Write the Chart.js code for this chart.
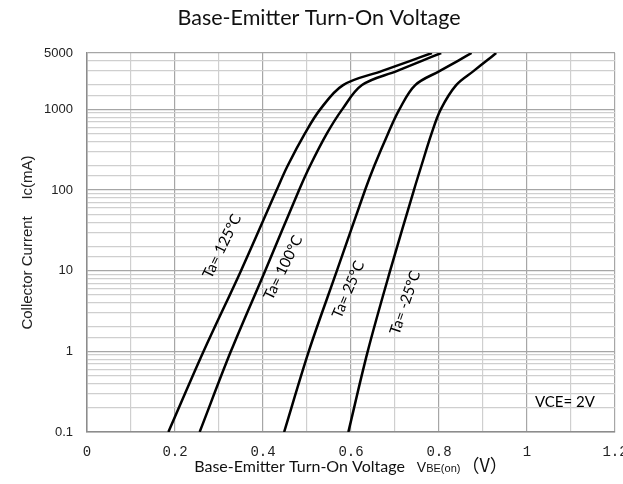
<!DOCTYPE html>
<html><head><meta charset="utf-8">
<script src="https://cdn.jsdelivr.net/npm/chart.js@4/dist/chart.umd.min.js"></script>
<style>html,body{margin:0;padding:0;background:#fff}</style>
</head><body>
<canvas id="c" width="623" height="484"></canvas>
<script>
// ---- data ----
const currents = [0.1, 1, 10, 100, 200, 500, 1000, 2000, 3000, 4000, 5000]; // Ic (mA)
const vbe125  = [0.185, 0.265, 0.350, 0.431, 0.456, 0.495, 0.530, 0.582, 0.671, 0.735, 0.784];
const vbe100  = [0.256, 0.327, 0.405, 0.482, 0.507, 0.545, 0.580, 0.625, 0.705, 0.761, 0.805];
const vbe25   = [0.448, 0.504, 0.568, 0.632, 0.653, 0.684, 0.710, 0.746, 0.802, 0.843, 0.874];
const vbeM25  = [0.594, 0.638, 0.689, 0.743, 0.760, 0.783, 0.804, 0.839, 0.879, 0.908, 0.930];
const seriesNames = ['Ta= 125°C', 'Ta= 100°C', 'Ta= 25°C', 'Ta= -25°C'];
const yTickLabels = [0.1, 1, 10, 100, 1000, 5000];
const xTickLabels = ['0', '0.2', '0.4', '0.6', '0.8', '1', '1.2'];

// annotation anchors (data units) for the curve labels
const curveLabelV = [0.307, 0.446, 0.594, 0.723];
const curveLabelI = [20.1, 10.9, 5.84, 4.0];
const curveLabelAngle = [-64, -64, -67, -71];
const condText = 'VCE= 2V';
const condV = 1.018, condI = 0.232;

const titleText = 'Base-Emitter Turn-On Voltage';

const allSeries = [vbe125, vbe100, vbe25, vbeM25];
const datasets = allSeries.map((arr, i) => ({
  label: seriesNames[i],
  data: arr.map((v, k) => ({x: v, y: currents[k]})),
  showLine: true,
  borderColor: '#000',
  borderWidth: 2.5,
  pointRadius: 0,
  tension: 0.35,
  fill: false
}));

const isDecade = v => Math.abs(Math.log10(v) - Math.round(Math.log10(v))) < 1e-6;

const drawText = {
  id: 'drawText',
  afterDatasetsDraw(chart) {
    const ctx = chart.ctx, xs = chart.scales.x, ys = chart.scales.y, ca = chart.chartArea;
    ctx.save();
    // curve labels
    ctx.fillStyle = '#000';
    ctx.font = '15px Lato';
    ctx.textAlign = 'center';
    ctx.textBaseline = 'middle';
    seriesNames.forEach((t, i) => {
      ctx.save();
      ctx.translate(xs.getPixelForValue(curveLabelV[i]), ys.getPixelForValue(curveLabelI[i]));
      ctx.rotate(curveLabelAngle[i] * Math.PI / 180);
      ctx.fillText(t, 0, 0);
      ctx.restore();
    });
    // condition
    ctx.textAlign = 'left';
    ctx.fillText(condText, xs.getPixelForValue(condV), ys.getPixelForValue(condI));
    // chart title
    ctx.font = '21.5px Lato';
    ctx.fillStyle = '#111';
    ctx.textAlign = 'center';
    ctx.textBaseline = 'alphabetic';
    ctx.fillText(titleText, 319, 25);
    // x axis title with subscript part
    const parts = [
      {t: 'Base-Emitter Turn-On Voltage', f: '16px Lato', gap: 12},
      {t: 'V', f: '14px "Liberation Sans"', gap: 0},
      {t: 'BE(on)', f: '11px "Liberation Sans"', gap: 1},
      {t: '（V）', f: '18px "Noto Sans CJK SC"', gap: 0}
    ];
    let total = 0;
    parts.forEach(p => { ctx.font = p.f; p.w = ctx.measureText(p.t).width; total += p.w + p.gap; });
    let x = (ca.left + ca.right) / 2 - total / 2;
    const by = 472;
    ctx.textAlign = 'left';
    parts.forEach(p => { ctx.font = p.f; ctx.fillText(p.t, x, by); x += p.w + p.gap; });
    ctx.restore();
  }
};

new Chart(document.getElementById('c'), {
  type: 'scatter',
  data: {datasets},
  options: {
    responsive: false,
    devicePixelRatio: 1,
    animation: false,
    layout: {padding: {top: 53, right: 8, left: 0, bottom: 0}},
    plugins: {legend: {display: false}, tooltip: {enabled: false}, title: {display: false}},
    scales: {
      x: {
        type: 'linear', min: 0, max: 1.2,
        ticks: {
          stepSize: 0.1, autoSkip: false, maxRotation: 0, padding: 12,
          color: '#222', font: {family: '"Liberation Mono"', size: 14},
          callback: v => { const k = Math.round(v * 10); return k % 2 === 0 ? xTickLabels[k / 2] : ''; }
        },
        grid: {
          drawTicks: false,
          color: c => (Math.round(c.tick.value * 10) % 2 === 0 ? '#a6a6a6' : '#cfcfcf'),
          lineWidth: 1.2
        },
        border: {color: '#8c8c8c', width: 1.5},
        afterFit: s => { s.height = 52; s.paddingRight = 0; s.paddingLeft = 0; }
      },
      y: {
        type: 'logarithmic', min: 0.1, max: 5000,
        ticks: {
          autoSkip: false, padding: 14, color: '#222',
          font: {family: '"Liberation Sans"', size: 13},
          callback: v => (yTickLabels.includes(v) ? String(v) : '')
        },
        grid: {
          drawTicks: false,
          color: c => (isDecade(c.tick.value) || c.tick.value === 5000 ? '#a6a6a6' : '#cfcfcf'),
          lineWidth: 1.2
        },
        border: {color: '#8c8c8c', width: 1.5},
        title: {
          display: true, text: 'Collector Current    Ic(mA)', color: '#222',
          font: {family: '"Liberation Sans"', size: 15}, padding: {top: 19, bottom: 0}
        },
        afterFit: s => { s.width = 87; }
      }
    }
  },
  plugins: [drawText]
});
</script>
</body></html>
